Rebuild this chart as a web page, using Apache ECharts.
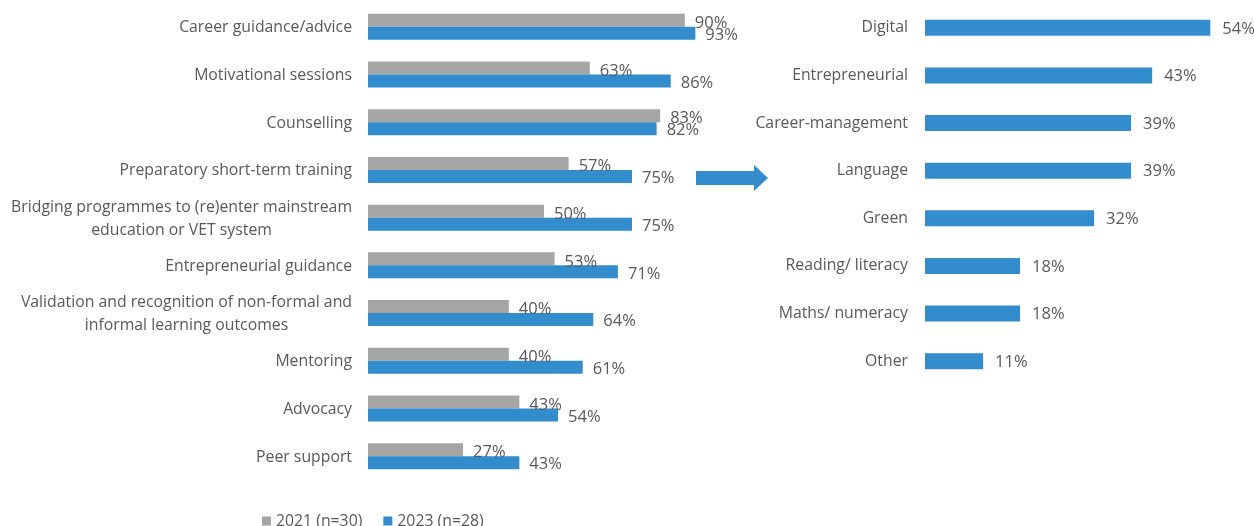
<!DOCTYPE html>
<html><head><meta charset="utf-8">
<script src="https://cdn.jsdelivr.net/npm/echarts@6/dist/echarts.min.js"></script>
<style>html,body{margin:0;padding:0;background:#fff}#c{width:1254px;height:526px}</style>
</head><body><div id="c"></div>
<script>
const leftCategories = ['Career guidance/advice','Motivational sessions','Counselling','Preparatory short-term training','Bridging programmes to (re)enter mainstream\neducation or VET system','Entrepreneurial guidance','Validation and recognition of non-formal and\ninformal learning outcomes','Mentoring','Advocacy','Peer support'];
const values2021 = [90,63,83,57,50,53,40,40,43,27];
const values2023 = [93,86,82,75,75,71,64,61,54,43];
const rightCategories = ['Digital','Entrepreneurial','Career-management','Language','Green','Reading/ literacy','Maths/ numeracy','Other'];
const skillValues = [54,43,39,39,32,18,18,11];
const seriesNames = ['2021 (n=30)','2023 (n=28)'];

const FONT = '"Open Sans", sans-serif';
const TXT = '#595959';
const GRAY = '#A5A5A5';
const BLUE = '#338DCD';
const FS = 15.8;

const chart = echarts.init(document.getElementById('c'), null, {renderer:'canvas'});
const lbl = {show:true, position:'right', distance:10, color:TXT, fontFamily:FONT, fontSize:16.5, formatter:'{c}%'};
chart.setOption({
  animation:false,
  textStyle:{fontFamily:FONT},
  grid:[
    {left:368, top:3, width:352, height:477, containLabel:false},
    {left:925, top:4, width:317, height:381, containLabel:false}
  ],
  xAxis:[
    {gridIndex:0, type:'value', min:0, max:100, show:false},
    {gridIndex:1, type:'value', min:0, max:60, show:false}
  ],
  yAxis:[
    {gridIndex:0, type:'category', data:leftCategories, inverse:true,
     axisLine:{show:false}, axisTick:{show:false},
     axisLabel:{margin:16, color:TXT, fontFamily:FONT, fontSize:FS, lineHeight:23,
       formatter:function(v){return v.split('\n').map(function(s){return '{c|'+s+'}';}).join('\n');},
       rich:{c:{align:'center', color:TXT, fontFamily:FONT, fontSize:FS, lineHeight:23, padding:[2,0,0,0]}}}},
    {gridIndex:1, type:'category', data:rightCategories, inverse:true,
     axisLine:{show:false}, axisTick:{show:false},
     axisLabel:{margin:17, color:TXT, fontFamily:FONT, fontSize:FS, padding:[2,0,0,0]}}
  ],
  legend:{data:seriesNames, left:257, top:508, icon:'rect', itemWidth:9, itemHeight:9, itemGap:21,
    textStyle:{color:TXT, fontFamily:FONT, fontSize:FS}},
  series:[
    {name:seriesNames[0], type:'bar', xAxisIndex:0, yAxisIndex:0, data:values2021, barWidth:13, barGap:'0%',
     itemStyle:{color:GRAY}, label:Object.assign({}, lbl, {offset:[0,3]})},
    {name:seriesNames[1], type:'bar', xAxisIndex:0, yAxisIndex:0, data:values2023, barWidth:13, barGap:'0%',
     itemStyle:{color:BLUE}, label:Object.assign({}, lbl, {offset:[0,2]})},
    {name:'Skills', type:'bar', xAxisIndex:1, yAxisIndex:1, data:skillValues, barWidth:16,
     itemStyle:{color:BLUE}, label:Object.assign({}, lbl, {distance:12, offset:[0,1]})}
  ],
  graphic:[
    {type:'polygon', shape:{points:[[696,171],[754,171],[754,165],[768,178],[754,191],[754,185],[696,185]]},
     style:{fill:BLUE}}
  ]
});
</script></body></html>
